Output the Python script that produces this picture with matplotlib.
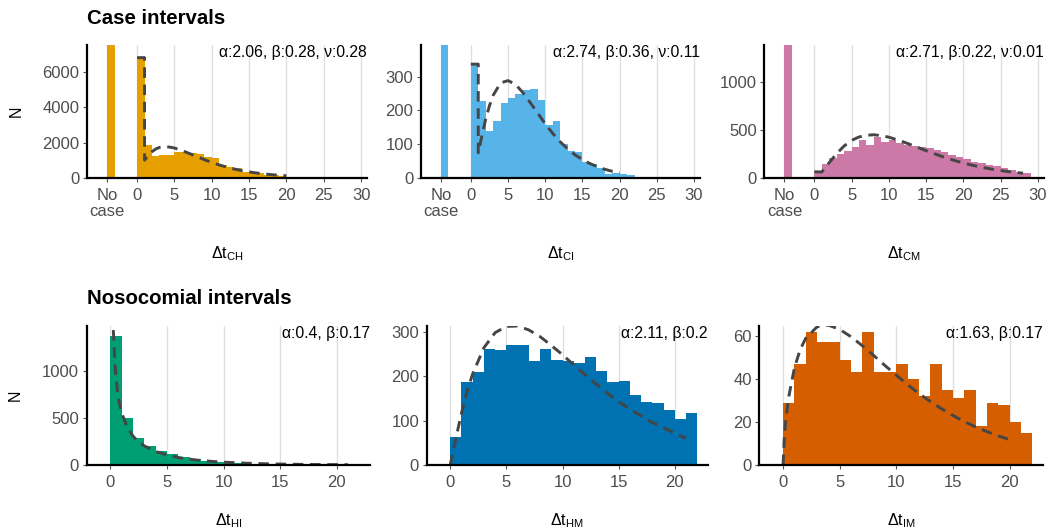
import matplotlib.pyplot as plt
import numpy as np

plt.rcParams['font.family'] = ['Liberation Sans', 'DejaVu Sans']

# counts per 1-day bin, bins start at 0
ch_counts = [6850, 1840, 1230, 1270, 1310, 1480, 1440, 1390, 1350, 1200, 1100,
             720, 630, 530, 340, 300, 250, 170, 130, 95, 57, 38]
ci_counts = [335, 227, 138, 170, 221, 236, 249, 261, 264, 232, 158, 170, 100,
             78, 76, 48, 40, 28, 12, 14, 11, 9]
cm_counts = [64, 140, 208, 250, 280, 322, 392, 345, 430, 372, 390, 362, 340,
             334, 318, 310, 290, 268, 235, 222, 192, 168, 150, 133, 124, 106,
             80, 62, 44]
hi_counts = [1365, 495, 282, 200, 153, 115, 86, 61, 46, 32, 25, 18, 14, 10, 8,
             6, 5, 4, 3, 3, 2, 2]
hm_counts = [63, 188, 210, 262, 260, 270, 272, 236, 263, 238, 235, 231, 243,
             212, 187, 189, 159, 143, 140, 125, 103, 118]
im_counts = [29, 47, 62, 57, 57, 49, 43, 62, 43, 43, 47, 40, 32, 47, 35, 31, 35,
             18, 29, 28, 20, 15]

# "No case" bars (run off the top of the panel)
ch_nocase = 12000
ci_nocase = 1500
cm_nocase = 3000

# fitted densities (dashed)
ch_fit_x = [0, 1, 1, 1.5, 2, 2.5, 3, 3.5, 4, 5, 6, 7, 8, 9, 10, 11, 12, 13, 14,
            15, 16, 17, 18, 19, 20]
ch_fit_y = [6830, 6830, 1000, 1256, 1481, 1633, 1720, 1762, 1764, 1688, 1548,
            1377, 1200, 1028, 868, 726, 602, 495, 404, 329, 266, 214, 172, 138,
            110]
ci_fit_x = [0, 1, 1, 1.5, 2, 2.5, 3, 4, 5, 6, 7, 8, 9, 10, 11, 12, 13, 14, 15,
            16, 17, 18, 19, 20]
ci_fit_y = [338, 338, 74, 126, 174, 214, 245, 282, 289, 278, 253, 223, 192, 160,
            132, 107, 86, 68, 54, 42, 33, 25, 19, 15]
cm_fit_x = [0, 1, 2, 3, 4, 5, 6, 7, 8, 9, 10, 11, 12, 13, 14, 15, 16, 17, 18,
            19, 20, 21, 22, 23, 24, 25, 26, 27, 28]
cm_fit_y = [62, 60, 157, 252, 332, 391, 427, 445, 450, 441, 425, 400, 374, 344,
            314, 283, 254, 226, 199, 176, 154, 134, 117, 101, 87, 75, 64, 55, 47]
hi_fit_x = [0.15, 0.25, 0.4, 0.6, 0.8, 1, 1.5, 2, 2.5, 3, 4, 5, 6, 7, 8, 9, 10,
            12, 14, 16, 18, 20, 21]
hi_fit_y = [1978, 1430, 1052, 798, 649, 548, 395, 305, 245, 202, 143, 106, 80,
            61, 48, 38, 30, 19, 12, 8, 5, 4, 3]
hm_fit_x = [0, 0.5, 1, 1.5, 2, 3, 4, 5, 6, 7, 8, 9, 10, 11, 12, 13, 14, 15, 16,
            17, 18, 19, 20, 21]
hm_fit_y = [0, 60, 117, 166, 206, 265, 299, 313, 314, 305, 290, 270, 249, 226,
            204, 183, 162, 143, 126, 111, 96, 84, 72, 60]
im_fit_x = [0, 0.1, 0.25, 0.5, 1, 1.5, 2, 3, 4, 5, 6, 7, 8, 9, 10, 11, 12, 13,
            14, 15, 16, 17, 18, 19, 20]
im_fit_y = [0, 12.3, 21.4, 31.7, 45.1, 53.5, 58.9, 64.2, 65.0, 63.0, 59.6, 55.4,
            50.9, 46.2, 41.7, 37.3, 33.2, 29.5, 26.1, 23.0, 20.2, 17.7, 15.5,
            13.5, 11.8]

params = ['α:2.06, β:0.28, ν:0.28', 'α:2.74, β:0.36, ν:0.11',
          'α:2.71, β:0.22, ν:0.01', 'α:0.4, β:0.17', 'α:2.11, β:0.2',
          'α:1.63, β:0.17']
xlabels = [r'$\mathregular{\Delta t_{CH}}$', r'$\mathregular{\Delta t_{CI}}$',
           r'$\mathregular{\Delta t_{CM}}$', r'$\mathregular{\Delta t_{HI}}$',
           r'$\mathregular{\Delta t_{HM}}$', r'$\mathregular{\Delta t_{IM}}$']
colors = ['#E69F00', '#56B4E9', '#CC79A7', '#009E73', '#0072B2', '#D55E00']

top_xticks = [-4, 0, 5, 10, 15, 20, 25, 30]
top_xticklabels = ['No\ncase', '0', '5', '10', '15', '20', '25', '30']
bottom_xticks = [0, 5, 10, 15, 20]

panels = [
    # counts, nocase, fit x, fit y, ymax, yticks, axes rect
    (ch_counts, ch_nocase, ch_fit_x, ch_fit_y, 7550, [0, 2000, 4000, 6000],
     [0.0822, 0.6654, 0.2644, 0.2499]),
    (ci_counts, ci_nocase, ci_fit_x, ci_fit_y, 395, [0, 100, 200, 300],
     [0.3975, 0.6654, 0.2635, 0.2499]),
    (cm_counts, cm_nocase, cm_fit_x, cm_fit_y, 1392, [0, 500, 1000],
     [0.7217, 0.6654, 0.2641, 0.2499]),
    (hi_counts, None, hi_fit_x, hi_fit_y, 1474, [0, 500, 1000],
     [0.0819, 0.1243, 0.2675, 0.2618]),
    (hm_counts, None, hm_fit_x, hm_fit_y, 314, [0, 100, 200, 300],
     [0.4029, 0.1243, 0.2656, 0.2618]),
    (im_counts, None, im_fit_x, im_fit_y, 64.6, [0, 20, 40, 60],
     [0.7170, 0.1243, 0.2679, 0.2618]),
]

fig = plt.figure(figsize=(10.59, 5.31), dpi=100)

for i, (counts, nocase, fx, fy, ymax, yticks, rect) in enumerate(panels):
    ax = fig.add_axes(rect)
    ax.bar(np.arange(len(counts)), counts, width=1, align='edge',
           color=colors[i], linewidth=0)
    if nocase is not None:
        ax.bar(-4, nocase, width=1, align='edge', color=colors[i], linewidth=0)
        ax.set_xlim(-6.7, 30.8)
        ax.set_xticks(top_xticks)
        ax.set_xticklabels(top_xticklabels, linespacing=1.1)
        ax.xaxis.set_label_coords(0.5, -0.5)
    else:
        ax.set_xlim(-2.1, 22.95)
        ax.set_xticks(bottom_xticks)
        ax.xaxis.set_label_coords(0.5, -0.335)
    ax.plot(fx, fy, color='#454545', lw=2.1, dashes=(3.6, 2.3))
    ax.set_ylim(0, ymax)
    ax.set_yticks(yticks)

    ax.grid(axis='x', color='#DEDEDE', lw=0.9)
    ax.set_axisbelow(True)
    for s in ['top', 'right']:
        ax.spines[s].set_visible(False)
    for s in ['left', 'bottom']:
        ax.spines[s].set_linewidth(1.6)
        ax.spines[s].set_color('black')
    ax.tick_params(axis='both', length=3, width=0.8, color='#555555',
                   labelcolor='#4D4D4D', labelsize=12)
    ax.tick_params(axis='x', pad=4.5)
    ax.tick_params(axis='y', pad=2.5)

    ax.set_xlabel(xlabels[i], fontsize=11.5)
    if i % 3 == 0:
        ax.set_ylabel('N', fontsize=11.5)
        ax.yaxis.set_label_coords(-0.225, 0.5)

    ax.text(1.0, 1.0, params[i], transform=ax.transAxes, ha='right', va='top',
            fontsize=11.3)

fig.text(0.0822, 1 - 18 / 531, 'Case intervals', fontsize=14.7,
         fontweight='bold', va='center')
fig.text(0.0822, 1 - 298 / 531, 'Nosocomial intervals', fontsize=14.7,
         fontweight='bold', va='center')

plt.savefig('out.png', dpi=100)
